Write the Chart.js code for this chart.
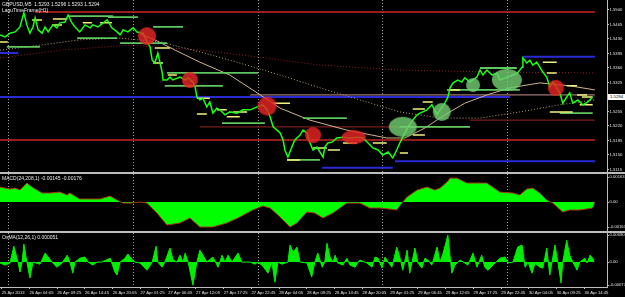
<!DOCTYPE html>
<html><head><meta charset="utf-8">
<script src="https://cdn.jsdelivr.net/npm/chart.js@4.4.1/dist/chart.umd.min.js"></script>
<style>
html,body{margin:0;padding:0;background:#000;width:625px;height:297px;overflow:hidden}
.pane{position:absolute;left:0;width:625px}
#p1{top:0;height:172px}
#p2{top:172px;height:57px;border-top:2px solid #bdbdbd}
#p3{top:231px;height:64px;border-top:2px solid #bdbdbd}
canvas{display:block}
.lbl{position:absolute;color:#e8e8e8;font:5px "Liberation Sans",Arial,sans-serif;white-space:pre;line-height:6px}
#pricebox{position:absolute;left:608px;top:94px;width:17px;height:6px;background:#fff;color:#000;font:4.3px "Liberation Sans",Arial,sans-serif;line-height:6px;text-align:center}
</style></head>
<body>
<div class="pane" id="p1"><canvas id="c1" width="625" height="172"></canvas></div>
<div class="pane" id="p2"><canvas id="c2" width="625" height="57"></canvas></div>
<div class="pane" id="p3"><canvas id="c3" width="625" height="64"></canvas></div>
<div class="lbl" style="left:2px;top:1px">GBPUSD,M5  1.5293 1.5296 1.5293 1.5294</div>
<div class="lbl" style="left:2px;top:7px">LaguTimeFrame(H1)</div>
<div class="lbl" style="left:2px;top:175px">MACD(24,208,1) -0.00145 -0.00176</div>
<div class="lbl" style="left:2px;top:234px">OsMA(12,26,1) 0.000051</div>
<div id="pricebox">1.5294</div>
<script>
// ---------- DATA (x = M5 bar index, y = price / indicator value) ----------
const tickLabels = ["25 Apr 2013","26 Apr 04:05","26 Apr 09:25","26 Apr 14:45","26 Apr 20:05","27 Apr 01:25","27 Apr 06:45","27 Apr 12:05","27 Apr 17:25","27 Apr 22:45","28 Apr 04:05","28 Apr 09:25","28 Apr 14:45","28 Apr 20:05","29 Apr 01:25","29 Apr 06:45","29 Apr 12:05","29 Apr 17:25","29 Apr 22:45","30 Apr 04:05","30 Apr 09:25","30 Apr 14:45"];
const tickBars = [4,68,132,196,260,324,388,452,516,580,644,708,772,836,900,964,1028,1092,1156,1220,1284,1348];
const daySeparators = [18,306,594,882,1170];
const priceTicks = [1.5115,1.5150,1.5185,1.5220,1.5255,1.5290,1.5325,1.5360,1.5395,1.5430,1.5465,1.5500];
const macdTicks = [-0.00163,0,0.00163];
const osmaTicks = [-0.00077,0,0.0009];

const priceBar = [0,12,23,35,46,55,62,69,76,81,88,97,104,111,122,131,138,150,157,166,173,184,196,208,214,226,238,247,258,270,277,284,295,307,316,330,339,346,351,357,364,374,376,385,392,399,415,427,434,445,450,454,461,468,477,484,491,500,507,519,530,547,560,577,593,606,616,623,630,639,646,653,657,664,673,680,692,699,708,715,722,731,738,745,749,756,766,777,791,807,823,837,849,860,872,883,895,906,915,922,929,941,952,962,969,985,996,1008,1015,1026,1033,1038,1045,1056,1065,1072,1084,1100,1107,1114,1123,1135,1146,1153,1165,1171,1183,1194,1204,1206,1215,1222,1229,1238,1245,1252,1261,1268,1275,1284,1291,1298,1307,1314,1321,1333,1344,1356,1367];
const priceClose = [1.5440,1.5435,1.5444,1.5447,1.5459,1.5493,1.5464,1.5444,1.5459,1.5481,1.5452,1.5444,1.5459,1.5447,1.5464,1.5457,1.5469,1.5471,1.5488,1.5469,1.5459,1.5447,1.5464,1.5457,1.5464,1.5459,1.5469,1.5476,1.5457,1.5447,1.5440,1.5452,1.5447,1.5457,1.5447,1.5444,1.5423,1.5411,1.5379,1.5372,1.5396,1.5350,1.5331,1.5331,1.5338,1.5331,1.5338,1.5331,1.5336,1.5326,1.5314,1.5290,1.5283,1.5287,1.5266,1.5278,1.5251,1.5263,1.5259,1.5247,1.5254,1.5251,1.5259,1.5259,1.5266,1.5271,1.5259,1.5242,1.5218,1.5210,1.5203,1.5186,1.5162,1.5145,1.5169,1.5186,1.5198,1.5210,1.5203,1.5179,1.5162,1.5169,1.5157,1.5145,1.5169,1.5179,1.5181,1.5191,1.5193,1.5191,1.5193,1.5191,1.5179,1.5167,1.5162,1.5150,1.5157,1.5143,1.5162,1.5179,1.5193,1.5218,1.5234,1.5247,1.5251,1.5259,1.5271,1.5247,1.5259,1.5275,1.5290,1.5312,1.5324,1.5331,1.5326,1.5336,1.5326,1.5338,1.5355,1.5343,1.5355,1.5343,1.5348,1.5331,1.5336,1.5338,1.5343,1.5348,1.5362,1.5384,1.5372,1.5379,1.5367,1.5374,1.5362,1.5350,1.5338,1.5314,1.5326,1.5312,1.5300,1.5275,1.5290,1.5300,1.5275,1.5283,1.5271,1.5278,1.5290];

const fastMaBar = [323,357,404,461,530,593,646,715,800,892,934,980,1026,1072,1123,1176,1245,1314,1372];
const fastMa = [1.5442,1.5428,1.5403,1.5374,1.5343,1.5300,1.5263,1.5234,1.5210,1.5191,1.5191,1.5215,1.5247,1.5275,1.5295,1.5312,1.5324,1.5317,1.5307];
const slowMaBar = [0,92,184,277,369,461,553,646,738,830,922,1015,1107,1199,1291,1372];
const slowMa = [1.5403,1.5415,1.5428,1.5432,1.5423,1.5399,1.5372,1.5343,1.5312,1.5283,1.5254,1.5239,1.5239,1.5254,1.5271,1.5283];
const longMaBar = [0,138,300,461,600,738,922,1153,1372];
const longMa = [1.5384,1.5403,1.5415,1.5403,1.5386,1.5367,1.5355,1.5350,1.5348];

// levels: [startBar, endBar, price]
const redLevels = [[81,1372,1.5495],[0,1372,1.5186]];
const darkRedLevels = [[461,1084,1.5218],[1084,1372,1.5234]];
const blueLevels = [[0,1176,1.5290],[1206,1372,1.5387],[911,1372,1.5135],[743,906,1.5119],[0,42,1.5396]];
const pinkLevels = [[577,1372,1.5295]];
const greenLevels = [[157,261,1.5485],[249,318,1.5483],[353,422,1.5459],[178,270,1.5432],[277,385,1.5420],[16,92,1.5411],[385,595,1.5348],[380,514,1.5317],[512,611,1.5227],[699,800,1.5239],[662,738,1.5138],[922,1084,1.5218],[1031,1199,1.5307],[1107,1192,1.5360],[1291,1367,1.5251]];
const yellowLevels = [[74,97,1.5476],[122,155,1.5478],[120,143,1.5464],[191,212,1.5469],[357,392,1.5408],[353,376,1.5372],[387,408,1.5343],[454,484,1.5287],[454,477,1.5249],[500,523,1.5259],[523,553,1.5242],[537,570,1.5254],[630,669,1.5275],[662,692,1.5138],[722,754,1.5167],[756,784,1.5162],[791,823,1.5179],[860,892,1.5179],[922,941,1.5155],[952,980,1.5198],[952,980,1.5261],[975,998,1.5278],[1038,1061,1.5307],[1252,1284,1.5374],[1261,1284,1.5348],[1307,1331,1.5317],[1342,1367,1.5290],[1268,1321,1.5254],[1337,1367,1.5271],[1331,1354,1.5295],[0,18,1.5423],[231,258,1.5469]];

const redMarks = [[339,1.5437],[438,1.5331],[616,1.5268],[722,1.5198],[816,1.5193],[1282,1.5312]];
const greenMarks = [[929,1.5218],[1019,1.5254],[1091,1.5319],[1169,1.5331]];

const macdBar = [0,23,35,46,62,74,97,115,138,155,161,184,208,231,254,270,284,300,323,339,362,385,415,438,461,491,523,553,583,606,623,646,669,685,708,726,745,768,800,830,853,876,899,915,929,939,962,985,1003,1015,1031,1038,1054,1077,1107,1123,1153,1183,1199,1215,1229,1245,1261,1275,1298,1314,1337,1367,1372];
const macdVal = [0.00098,0.00085,0.00091,0.00078,0.00124,0.00098,0.00059,0.00059,0.00065,0.00046,0.00059,0.00020,0.00020,0.00020,0.00039,0.00013,-0.00007,-0.00007,0,-0.00007,-0.00072,-0.00150,-0.00137,-0.00104,-0.00163,-0.00163,-0.00137,-0.00098,-0.00052,-0.00026,-0.00039,-0.00098,-0.00163,-0.00137,-0.00065,-0.00072,-0.00104,-0.00072,-0.00007,-0.00007,-0.00039,-0.00039,-0.00046,-0.00052,0,0.00033,0.00078,0.00098,0.00078,0.00091,0.00130,0.00156,0.00156,0.00124,0.00124,0.00124,0.00065,0.00059,0.00046,0.00085,0.00091,0.00059,0.00013,-0.00007,-0.00065,-0.00052,-0.00052,-0.00039,0];

const osmaBar = [0,12,23,32,42,46,51,55,62,69,76,92,104,111,120,131,143,155,161,168,173,184,196,203,214,224,235,254,265,270,277,288,295,304,311,323,339,351,360,364,374,380,392,399,408,415,422,427,434,445,454,461,468,477,491,503,512,519,526,535,549,558,577,588,595,606,618,627,634,641,650,664,669,676,685,692,708,719,726,733,743,749,754,761,768,773,779,791,800,807,819,826,830,846,858,865,872,881,888,895,904,915,922,929,939,945,957,964,973,980,987,996,1008,1015,1022,1033,1042,1049,1061,1072,1079,1091,1100,1111,1118,1125,1137,1153,1165,1171,1183,1194,1204,1211,1218,1227,1234,1245,1252,1261,1268,1280,1287,1294,1298,1307,1314,1321,1331,1337,1349,1354,1361,1367,1370];
const osmaVal = [-0.00003,-0.0001,-0.00003,0.00053,-0.00003,-0.00033,0,0.0006,0,-0.00053,0,-0.00007,0.0003,0.00017,0,-0.00017,-0.00003,0.00023,0,-0.00037,0,0.00013,0.00017,0,-0.0001,0,0,0.00013,-0.00033,-0.00043,0,0.00013,0.00027,0.0001,0,-0.00003,-0.00027,0,0.00053,0,-0.00017,0,0.00047,0.00007,0,0.00023,0,0.0003,0,-0.00077,0,0.0004,0.00023,0,0.00017,-0.00017,0.00023,0,0.00023,0,0.0003,0,0,-0.00007,0,-0.00013,-0.00037,0,-0.00067,0,-0.00007,0,0.00057,0.00033,0.0005,0,-0.00003,-0.0005,0,0.0003,-0.00017,0,0.00063,0.00017,0,0.00023,-0.00003,-0.0001,0.00013,-0.0001,-0.00017,0,0.00007,-0.00003,-0.00017,0.00017,0.00013,-0.0002,0.00017,0,-0.00017,0.0005,0.00017,-0.00027,0.0004,-0.00037,0.00047,-0.00003,-0.0002,0.00013,0.00007,-0.0001,0.0005,0,0.0003,0.0009,-0.00037,-0.0001,0.00007,-0.00003,-0.0001,0.0003,-0.00017,0.00023,-0.00017,-0.00027,-0.0001,0.00013,0.00017,-0.00003,0,0.0005,0.00057,-0.00017,0,-0.00037,-0.00003,-0.00017,-0.0002,0.00047,-0.00043,0.00057,-0.00003,-0.0007,0,0.00073,0.00023,0,-0.00027,0,0.00013,-0.00003,0.00023,0.00013,0];

// ---------- STYLE / BUILD ----------
const X_MIN = 0, X_MAX = 1400;
const AXIS_W = 18;
const FONT = {family:'"Liberation Sans", Arial, sans-serif', size:4.2};
const GRAY = '#bdbdbd';

function pts(xs, ys){ return xs.map((x,i)=>({x:x, y:ys[i]})); }
function segs(list){ const d=[]; list.forEach(s=>{ d.push({x:s[0],y:s[2]},{x:s[1],y:s[2]},{x:s[1],y:null}); }); return d; }
function blob(rx, ry, fill){
  const c=document.createElement('canvas'); c.width=Math.ceil(2*rx)+2; c.height=Math.ceil(2*ry)+2;
  const g=c.getContext('2d'); g.fillStyle=fill; g.beginPath(); g.ellipse(c.width/2,c.height/2,rx,ry,0,0,Math.PI*2); g.fill(); return c;
}
const redMarkSize = [[9,9],[8,8],[9.5,9.5],[8,8],[12,7],[8,8]];
const greenMarkSize = [[14,10],[9,9],[7,7],[15,11]];
const redImgs = redMarkSize.map(s=>blob(s[0],s[1],'rgba(232,36,36,0.82)'));
const greenImgs = greenMarkSize.map(s=>blob(s[0],s[1],'rgba(112,204,112,0.82)'));

const sepPlugin = { id:'sep', beforeDatasetsDraw(chart){
  const {ctx, chartArea:a, scales:{x}} = chart; ctx.save(); ctx.strokeStyle='#a0a0a0'; ctx.lineWidth=1; ctx.setLineDash([1,2]);
  daySeparators.forEach(b=>{ const px=Math.round(x.getPixelForValue(b))+0.5; ctx.beginPath(); ctx.moveTo(px,a.top); ctx.lineTo(px,a.bottom); ctx.stroke(); });
  ctx.restore(); } };

function yAxis(min, max, ticks, fmt){
  return { type:'linear', position:'right', min:min, max:max,
    afterBuildTicks: s=>{ s.ticks = ticks.map(v=>({value:v})); },
    afterFit: s=>{ s.width = AXIS_W; s.paddingTop = 0; s.paddingBottom = 0; },
    grid:{drawOnChartArea:false, drawTicks:true, tickLength:2, color:GRAY},
    border:{display:true, color:GRAY, width:1},
    ticks:{color:'#e0e0e0', font:FONT, padding:0.5, callback:fmt} };
}
function xAxis(show){
  return { type:'linear', min:X_MIN, max:X_MAX, display:show,
    afterBuildTicks: s=>{ s.ticks = tickBars.map(v=>({value:v})); },
    afterFit: s=>{ if(show){ s.height = 10; } s.paddingLeft = 0; s.paddingRight = 0; },
    grid:{drawOnChartArea:false, drawTicks:true, tickLength:2, color:GRAY},
    border:{display:true, color:GRAY, width:1},
    ticks:{color:'#e0e0e0', font:FONT, padding:1, align:'start', autoSkip:false, maxRotation:0, minRotation:0,
      callback:(v,i)=>tickLabels[i]} };
}
function opts(y, showX){
  return { responsive:false, animation:false, devicePixelRatio:1, maintainAspectRatio:false,
    layout:{padding:0, autoPadding:false}, plugins:{legend:{display:false}, tooltip:{enabled:false}},
    elements:{point:{radius:0}, line:{tension:0}},
    scales:{ x:xAxis(showX), y:y } };
}
function line(data, color, width, extra){ return Object.assign({data:data, borderColor:color, borderWidth:width, pointRadius:0, fill:false, spanGaps:false}, extra||{}); }

new Chart(document.getElementById('c1'), { type:'line', plugins:[sepPlugin],
  data:{ datasets:[
    Object.assign({data:redMarks.map(m=>({x:m[0],y:m[1]})), showLine:false, pointStyle:redImgs, pointRadius:9, order:1}),
    Object.assign({data:greenMarks.map(m=>({x:m[0],y:m[1]})), showLine:false, pointStyle:greenImgs, pointRadius:9, order:1}),
    line(pts(priceBar, priceClose), '#19ff19', 1.5, {order:2}),
    line(segs(yellowLevels), '#f2f27a', 1.5, {order:3}),
    line(segs(greenLevels), '#5fc85f', 1.8, {order:4}),
    line(pts(fastMaBar, fastMa), '#cdb48c', 1, {order:5}),
    line(pts(slowMaBar, slowMa), '#b9a37a', 1, {order:5, borderDash:[1,2]}),
    line(pts(longMaBar, longMa), '#8e2020', 1, {order:5, borderDash:[1,2]}),
    line(segs(redLevels), '#c82424', 1.5, {order:6}),
    line(segs(darkRedLevels), '#7a1c1c', 1.2, {order:6}),
    line(segs(pinkLevels), '#c89090', 1, {order:6}),
    line(segs(blueLevels), '#2a2ad8', 2, {order:6})
  ]},
  options: opts(yAxis(1.51089, 1.55241, priceTicks, v=>v.toFixed(4)), false)
});

new Chart(document.getElementById('c2'), { type:'line', plugins:[sepPlugin],
  data:{ datasets:[ line(pts(macdBar, macdVal), '#a8321a', 1, {fill:'origin', backgroundColor:'#00ff00'}) ]},
  options: opts(yAxis(-0.00189, 0.00183, macdTicks, v=>v===0?'0.00':v.toFixed(5)), false)
});

new Chart(document.getElementById('c3'), { type:'line', plugins:[sepPlugin],
  data:{ datasets:[ line(pts(osmaBar, osmaVal), '#00ee00', 1, {fill:'origin', backgroundColor:'#00ee00'}) ]},
  options: opts(yAxis(-0.00083, 0.00097, osmaTicks, v=>v===0?'0.00':v.toFixed(5)), true)
});
</script>
</body></html>
